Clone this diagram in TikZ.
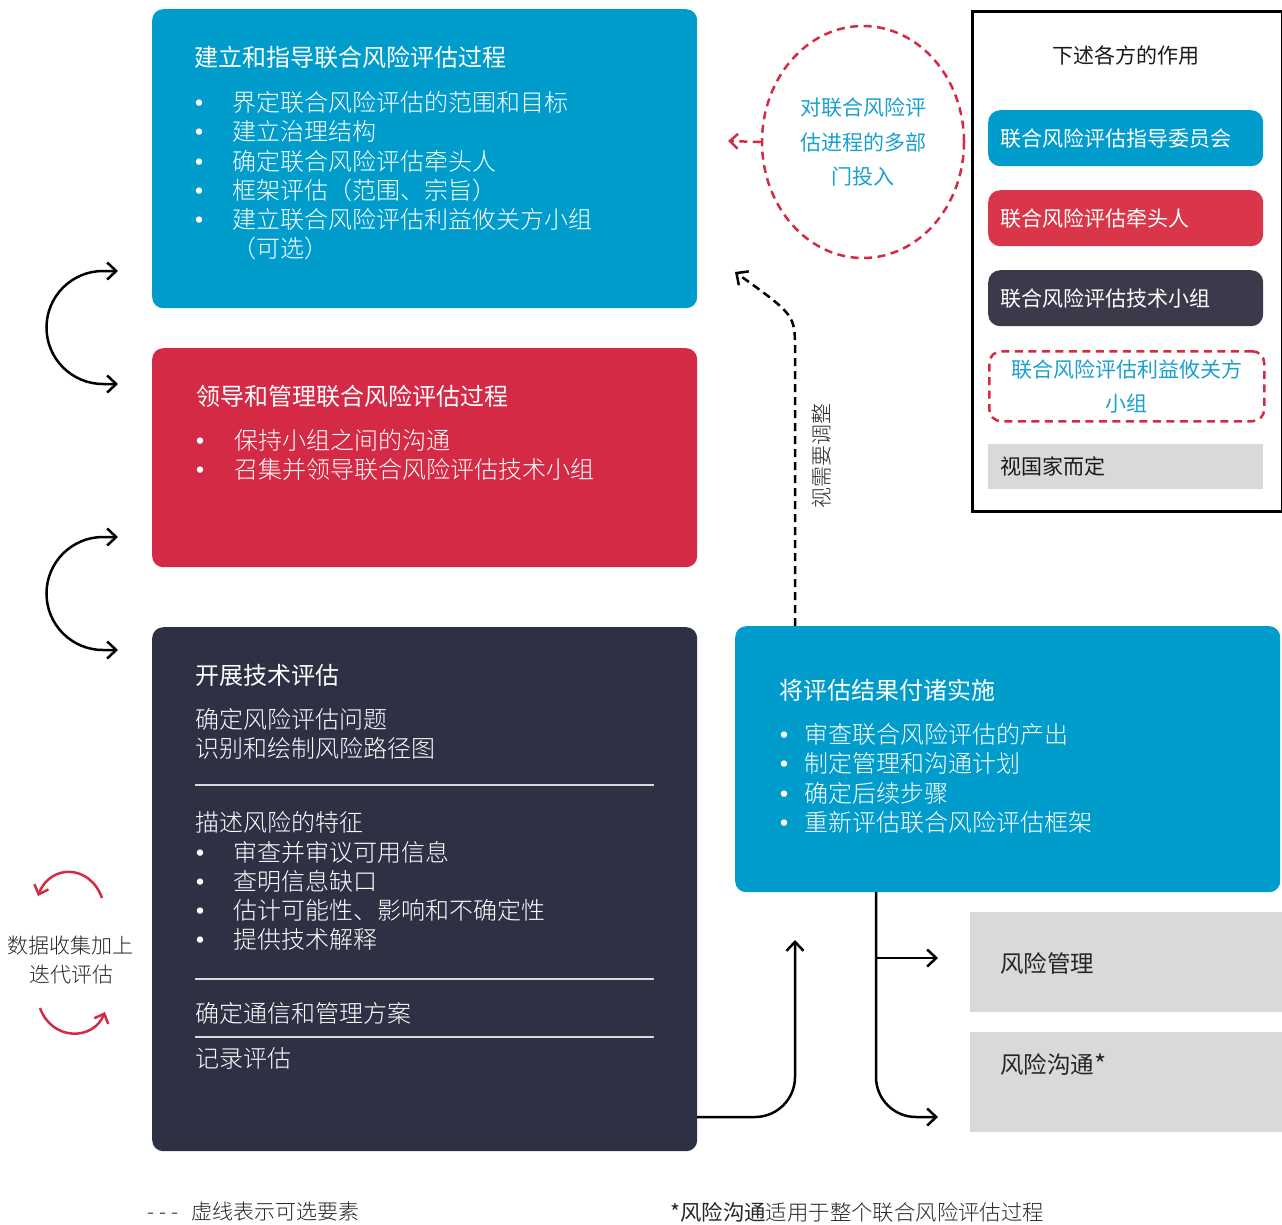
\documentclass[tikz,border=0pt]{standalone}
\usepackage{fontspec}
\setmainfont{Noto Sans CJK SC}
\newfontfamily\lt{Noto Sans CJK SC Light}
\usetikzlibrary{arrows.meta,shapes.geometric}
\definecolor{cblue}{HTML}{009CCB}
\definecolor{cred}{HTML}{D52A45}
\definecolor{cdark}{HTML}{2E3144}
\definecolor{lred}{HTML}{D93749}
\definecolor{ldark}{HTML}{3A3A4A}
\definecolor{cgray}{HTML}{D9D9DB}
\definecolor{ctext}{HTML}{1AA0CF}
\definecolor{rulec}{HTML}{D8D8DC}
\begin{document}
\begin{tikzpicture}[x=1pt,y=-1pt,
  bigbox/.style={rounded corners=11pt, anchor=north west, inner sep=0pt, draw=none},
  hd/.style={anchor=west, inner sep=0pt, text=white, font=\fontsize{24}{24}\selectfont},
  tx/.style={anchor=west, inner sep=0pt, text=white, font=\lt\fontsize{24}{24}\selectfont},
  bul/.style={anchor=base, inner sep=0pt, text height=2pt, text depth=0pt, text=white, font=\fontsize{30}{30}\selectfont},
  lbox/.style={rounded corners=12pt, anchor=north west, text width=251pt, inner xsep=12pt, inner ysep=0pt, minimum height=56pt, align=left, text=white, font=\fontsize{21}{21}\selectfont},
  rulel/.style={draw=rulec, line width=1.4pt},
  arr/.style={line width=2.5pt, -{Straight Barb[length=9pt,width=17pt]}},
  darr/.style={line width=2.5pt, {Straight Barb[length=9pt,width=17pt]}-{Straight Barb[length=9pt,width=17pt]}},
  rarr/.style={draw=cred, line width=2.5pt, -{Straight Barb[length=8pt,width=15pt]}},
  reddash/.style={draw=cred, line width=2.5pt, dash pattern=on 8pt off 5.5pt}
]
\useasboundingbox (0,0) rectangle (1282,1224);
\def\bo{12}

% ---------- main boxes ----------
\node[bigbox, fill=cblue, minimum width=545pt, minimum height=299pt] (b1) at (152,9) {};
\node[bigbox, fill=cred, minimum width=545pt, minimum height=219pt] (b2) at (152,348) {};
\node[bigbox, fill=cdark, minimum width=545pt, minimum height=524pt] (b3) at (152,627) {};
\node[bigbox, fill=cblue, minimum width=545pt, minimum height=266pt] (b4) at (735,626) {};

% box 1 text
\node[hd] (b1h) at (194,57) {建立和指导联合风险评估过程};
\node[bul] (b1d1) at (199,102+\bo) {•};
\node[tx] (b1t1) at (232,102) {界定联合风险评估的范围和目标};
\node[bul] (b1d2) at (199,131+\bo) {•};
\node[tx] (b1t2) at (232,131) {建立治理结构};
\node[bul] (b1d3) at (199,161+\bo) {•};
\node[tx] (b1t3) at (232,161) {确定联合风险评估牵头人};
\node[bul] (b1d4) at (199,190+\bo) {•};
\node[tx] (b1t4) at (232,190) {框架评估（范围、宗旨）};
\node[bul] (b1d5) at (199,219+\bo) {•};
\node[tx] (b1t5) at (232,219) {建立联合风险评估利益攸关方小组};
\node[tx] (b1t6) at (232,248) {（可选）};

% box 2 text
\node[hd] (b2h) at (196,396) {领导和管理联合风险评估过程};
\node[bul] (b2d1) at (200,440+\bo) {•};
\node[tx] (b2t1) at (234,440) {保持小组之间的沟通};
\node[bul] (b2d2) at (200,469+\bo) {•};
\node[tx] (b2t2) at (234,469) {召集并领导联合风险评估技术小组};

% box 3 text
\node[hd] (b3h) at (195,675) {开展技术评估};
\node[tx] (b3t1) at (195,719) {确定风险评估问题};
\node[tx] (b3t2) at (195,748) {识别和绘制风险路径图};
\coordinate (r1a) at (195,785); \coordinate (r1b) at (654,785);
\draw[rulel] (r1a) -- (r1b);
\node[tx] (b3t3) at (195,822) {描述风险的特征};
\node[bul] (b3d1) at (200,852+\bo) {•};
\node[tx] (b3t4) at (233,852) {审查并审议可用信息};
\node[bul] (b3d2) at (200,881+\bo) {•};
\node[tx] (b3t5) at (233,881) {查明信息缺口};
\node[bul] (b3d3) at (200,910+\bo) {•};
\node[tx] (b3t6) at (233,910) {估计可能性、影响和不确定性};
\node[bul] (b3d4) at (200,939+\bo) {•};
\node[tx] (b3t7) at (233,939) {提供技术解释};
\coordinate (r2a) at (195,979); \coordinate (r2b) at (654,979);
\draw[rulel] (r2a) -- (r2b);
\node[tx] (b3t8) at (195,1013) {确定通信和管理方案};
\coordinate (r3a) at (195,1037); \coordinate (r3b) at (654,1037);
\draw[rulel] (r3a) -- (r3b);
\node[tx] (b3t9) at (195,1058) {记录评估};

% box 4 text
\node[hd] (b4h) at (779,690) {将评估结果付诸实施};
\node[bul] (b4d1) at (784,734+\bo) {•};
\node[tx] (b4t1) at (804,734) {审查联合风险评估的产出};
\node[bul] (b4d2) at (784,763+\bo) {•};
\node[tx] (b4t2) at (804,763) {制定管理和沟通计划};
\node[bul] (b4d3) at (784,793+\bo) {•};
\node[tx] (b4t3) at (804,793) {确定后续步骤};
\node[bul] (b4d4) at (784,822+\bo) {•};
\node[tx] (b4t4) at (804,822) {重新评估联合风险评估框架};

% ---------- gray outcome boxes ----------
\node[anchor=north west, fill=cgray, minimum width=312pt, minimum height=100pt, inner sep=0pt] (g1) at (970,912) {};
\node[anchor=north west, fill=cgray, minimum width=312pt, minimum height=100pt, inner sep=0pt] (g2) at (970,1032) {};
\node[anchor=west, inner sep=0pt, font=\fontsize{23.5}{23.5}\selectfont, text=black!85] (g1t) at (1000,963) {风险管理};
\node[anchor=west, inner sep=0pt, font=\fontsize{23.5}{23.5}\selectfont, text=black!85] (g2t) at (1000,1064) {风险沟通\raisebox{-1pt}{\fontsize{26}{26}\selectfont *}};

% ---------- legend ----------
\node[anchor=north west, draw=black, line width=3pt, minimum width=310pt, minimum height=500pt, inner sep=0pt] (leg) at (971,10) {};
\node[inner sep=0pt, font=\fontsize{21}{21}\selectfont, text=black!90] (legt) at (1126,55) {下述各方的作用};
\node[lbox, fill=cblue] (l1) at (988,110) {联合风险评估指导委员会};
\node[lbox, fill=lred] (l2) at (988,190) {联合风险评估牵头人};
\node[lbox, fill=ldark] (l3) at (988,270) {联合风险评估技术小组};
\node[anchor=north west, reddash, rounded corners=12pt, minimum width=275pt, minimum height=70pt, inner sep=0pt, align=center, text=ctext, font=\fontsize{21}{34}\selectfont] (l4) at (988,350) {联合风险评估利益攸关方\\小组};
\node[anchor=north west, fill=cgray, text width=251pt, inner xsep=12pt, inner ysep=0pt, minimum height=45pt, align=left, text=black!90, font=\fontsize{21}{21}\selectfont] (l5) at (988,444) {视国家而定};

% ---------- dashed circle ----------
\node[ellipse, reddash, minimum width=202pt, minimum height=232pt, inner sep=0pt] (circ) at (863,142) {};
\node[align=center, inner sep=0pt, text=ctext, font=\fontsize{21}{34.5}\selectfont] (circt) at (863,142) {对联合风险评\\估进程的多部\\门投入};
\coordinate (circend) at (728,141);
\draw[reddash, -{Straight Barb[length=8pt,width=15pt]}] (circ.west) -- (circend);

% ---------- dashed adjust arrow ----------
\coordinate (adjS) at (795,626);
\coordinate (adjM) at (795,350);
\coordinate (adjE) at (735,272);
\draw[line width=2.5pt, dash pattern=on 8pt off 5pt, -{Straight Barb[length=9pt,width=17pt]}] (adjS) -- (adjM) .. controls (795,315) .. (adjE);
\node[rotate=90, inner sep=0pt, font=\lt\fontsize{21}{21}\selectfont, text=black!85] (adjt) at (822,456) {视需要调整};

% ---------- left loop arrows ----------
\coordinate (la1) at (118,271);
\coordinate (la2) at (118,384);
\draw[darr] (la1) -- (103,271) arc[start angle=-90, end angle=-270, radius=56.5] -- (la2);
\coordinate (lb1) at (118,537);
\coordinate (lb2) at (118,650);
\draw[darr] (lb1) -- (103,537) arc[start angle=-90, end angle=-270, radius=56.5] -- (lb2);

% ---------- iteration arrows ----------
\node[align=center, inner sep=0pt, text=black!85, font=\lt\fontsize{21}{29}\selectfont] (iter) at (71,960) {数据收集加上\\迭代评估};
\coordinate (i1a) at (102,898); \coordinate (i1b) at (38,896);
\draw[rarr] (i1a) .. controls (90,864) and (50,864) .. (i1b);
\coordinate (i2a) at (40,1008); \coordinate (i2b) at (105,1012);
\draw[rarr] (i2a) .. controls (52,1041) and (93,1041) .. (i2b);

% ---------- bottom connectors ----------
\coordinate (c1) at (697,1117);
\coordinate (c2) at (795,940);
\draw[arr, rounded corners=40pt] (c1) -- (795,1117) -- (c2);
\coordinate (d0) at (876,892);
\coordinate (d1) at (938,958);
\coordinate (d2) at (938,1117);
\draw[arr, rounded corners=40pt] (d0) -- (876,1117) -- (d2);
\draw[arr] (876,958) -- (d1);

% ---------- footer ----------
\node[anchor=west, inner sep=0pt, text=black!85, font=\lt\fontsize{21}{21}\selectfont] (foot1) at (147,1212) {-\kern5pt-\kern5pt-\hspace{13pt}虚线表示可选要素};
\node[anchor=west, inner sep=0pt, text=black!85, font=\lt\fontsize{21.4}{21.4}\selectfont] (foot2) at (670,1212) {{\normalfont *风险沟通}适用于整个联合风险评估过程};
\end{tikzpicture}
\end{document}
